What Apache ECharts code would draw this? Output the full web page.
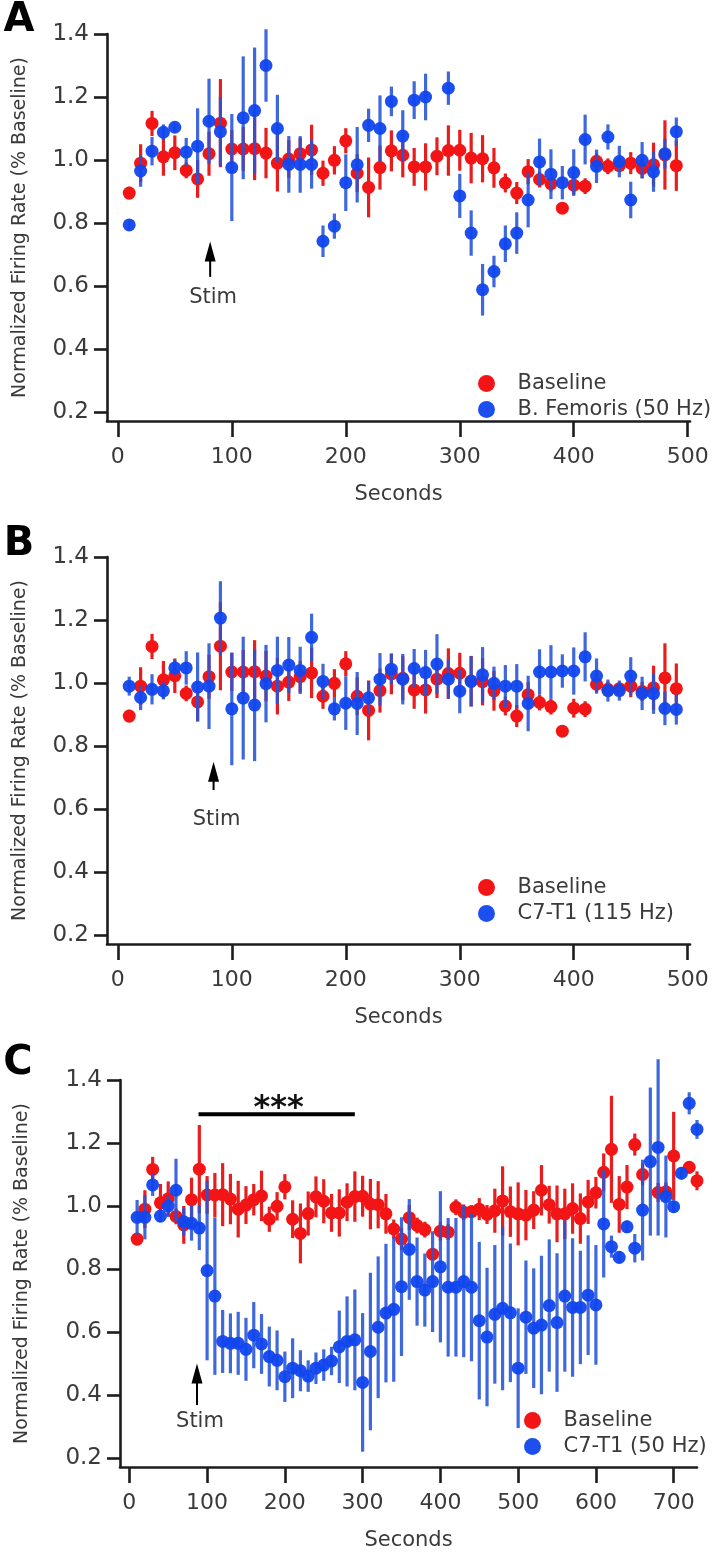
<!DOCTYPE html>
<html><head><meta charset="utf-8">
<style>html,body{margin:0;padding:0;background:#fff}#chart{width:720px;height:1558px}</style>
<script src="https://cdn.jsdelivr.net/npm/echarts@6/dist/echarts.min.js"></script>
</head><body><div id="chart"></div>
<script>
// ---------------- DATA ----------------
const timeAB = [10,20,30,40,50,60,70,80,90,100,110,120,130,140,150,160,170,180,190,200,210,220,230,240,250,260,270,280,290,300,310,320,330,340,350,360,370,380,390,400,410,420,430,440,450,460,470,480,490];
const timeC = [10,20,30,40,50,60,70,80,90,100,110,120,130,140,150,160,170,180,190,200,210,220,230,240,250,260,270,280,290,300,310,320,330,340,350,360,370,380,390,400,410,420,430,440,450,460,470,480,490,500,510,520,530,540,550,560,570,580,590,600,610,620,630,640,650,660,670,680,690,700,710,720,730];

// Baseline (red) – same recording shown in all panels
const baselineMean = [0.895,0.99,1.116,1.01,1.023,0.967,0.94,1.02,1.117,1.035,1.035,1.036,1.022,0.99,1.003,1.02,1.032,0.958,0.999,1.061,0.958,0.913,0.976,1.029,1.015,0.978,0.978,1.012,1.03,1.031,1.006,1.004,0.975,0.927,0.895,0.963,0.938,0.925,0.847,0.92,0.917,0.996,0.98,0.982,0.99,0.973,0.985,1.016,0.982,0.975,0.971,0.987,1.05,1.004,0.975,0.975,0.992,0.96,1.013,1.042,1.107,1.18,1.005,1.06,1.195,1.10,null,1.043,1.045,1.159,null,1.123,1.08];
const baselineErr = [0.02,0.06,0.04,0.06,0.055,0.025,0.06,0.07,0.14,0.06,0.07,0.1,0.08,0.09,0.06,0.05,0.08,0.04,0.045,0.04,0.06,0.095,0.07,0.065,0.07,0.06,0.075,0.06,0.08,0.065,0.08,0.075,0.063,0.03,0.035,0.04,0.025,0.025,0.012,0.03,0.025,0.025,0.025,0.02,0.035,0.03,0.07,0.11,0.08,0.1,0.08,0.06,0.08,0.06,0.09,0.08,0.08,0.08,0.07,0.05,0.06,0.17,0.09,0.07,0.035,0.035,null,0.03,0.03,0.14,null,0.02,0.03];

// Panel A – B. Femoris (50 Hz)
const femorisMean = [0.794,0.965,1.028,1.088,1.104,1.025,1.044,1.123,1.09,0.976,1.134,1.157,1.30,1.10,0.986,0.986,0.986,0.742,0.79,0.928,0.985,1.11,1.10,1.186,1.076,1.19,1.20,null,1.228,0.886,0.768,0.588,0.646,0.734,0.768,0.873,0.994,0.955,0.928,0.96,1.065,0.98,1.073,0.995,0.873,0.999,0.962,1.02,1.09];
const femorisErr = [0.015,0.05,0.045,0.025,0.015,0.045,0.12,0.135,0.11,0.17,0.195,0.2,0.115,0.107,0.09,0.09,0.077,0.05,0.04,0.09,0.12,0.053,0.105,0.047,0.082,0.06,0.074,null,0.053,0.07,0.072,0.082,0.05,0.058,0.066,0.087,0.074,0.079,0.053,0.074,0.079,0.053,0.04,0.05,0.058,0.058,0.063,0.047,0.045];

// Panel B – C7-T1 (115 Hz)
const c7t1HighMean = [0.99,0.954,0.98,0.975,1.048,1.048,0.987,0.99,1.206,0.918,0.952,0.93,0.998,1.04,1.057,1.04,1.145,1.005,0.918,0.936,0.935,0.953,1.012,1.044,1.012,1.046,1.033,1.06,1.012,0.974,1.005,1.026,0.999,0.99,0.99,0.935,1.035,1.035,1.038,1.038,1.083,1.022,0.976,0.976,1.022,0.967,0.966,0.919,0.916];
const c7t1HighErr = [0.03,0.04,0.048,0.027,0.025,0.053,0.11,0.136,0.117,0.179,0.195,0.178,0.123,0.107,0.089,0.075,0.075,0.056,0.037,0.085,0.1,0.053,0.083,0.048,0.08,0.062,0.072,0.095,0.062,0.07,0.08,0.088,0.053,0.067,0.07,0.088,0.072,0.085,0.053,0.075,0.078,0.056,0.035,0.032,0.06,0.053,0.064,0.053,0.048];

// Panel C – C7-T1 (50 Hz)
const c7t1LowMean = [0.964,0.964,1.067,0.968,1.0,1.05,0.95,0.945,0.93,0.795,0.714,0.57,0.564,0.564,0.545,0.59,0.562,0.522,0.51,0.458,0.485,0.477,0.46,0.485,0.495,0.508,0.553,0.57,0.575,0.44,0.538,0.615,0.66,0.672,0.744,0.862,0.76,0.733,0.76,0.807,0.742,0.742,0.76,0.742,0.636,0.584,0.656,0.675,0.661,0.485,0.647,0.612,0.622,0.684,0.63,0.714,0.678,0.678,0.717,0.686,0.943,0.871,0.837,0.934,0.866,0.987,1.141,1.186,1.03,0.998,1.104,1.326,1.243];
const c7t1LowErr = [0.055,0.07,0.035,0.02,0.035,0.1,0.045,0.055,0.07,0.285,0.25,0.1,0.095,0.1,0.1,0.105,0.095,0.095,0.095,0.08,0.095,0.065,0.05,0.05,0.05,0.045,0.115,0.143,0.16,0.22,0.25,0.225,0.22,0.23,0.22,0.16,0.14,0.116,0.16,0.24,0.22,0.22,0.24,0.235,0.25,0.22,0.22,0.26,0.22,0.19,0.18,0.19,0.22,0.21,0.22,0.24,0.22,0.18,0.19,0.19,0.17,0.035,0.02,0.02,0.045,0.16,0.235,0.28,0.13,0.02,0.02,0.035,0.03];

const yTicks = [0.2,0.4,0.6,0.8,1.0,1.2,1.4];
const xTicksAB = [0,100,200,300,400,500];
const xTicksC = [0,100,200,300,400,500,600,700];
const baselineName = 'Baseline';
const stimNames = ['B. Femoris (50 Hz)','C7-T1 (115 Hz)','C7-T1 (50 Hz)'];
const panelLetters = ['A','B','C'];
const stimTimes = [81, 84, 87];          // arrow x (s)
const sigBar = {from: 89, to: 290, level: 1.291, label: '***'};

// ---------------- STYLE / LAYOUT ----------------
const FONT = '"DejaVu Sans", "Liberation Sans", Arial, sans-serif';
const RED = '#f31515', RED_BAR = '#e81e1e';
const BLUE = '#1146ee', BLUE_BAR = '#2553d8';
const AXIS = '#1c1c1c', TXT = '#3a3a3a';

const panels = [
  {time: timeAB, base: 49, mean: femorisMean, err: femorisErr, grid:{left:107, top:34, width:583, height:387}, xMin:-9.5, xMax:502, xTicks:xTicksAB, yMin:0.1714, nameGapY:77, legend:{left:478, top:373}, stimY:{tip:0.741, tail:0.629, text:0.562}},
  {time: timeAB, base: 49, mean: c7t1HighMean, err: c7t1HighErr, grid:{left:107, top:557, width:583, height:387}, xMin:-9.5, xMax:502, xTicks:xTicksAB, yMin:0.1714, nameGapY:77, legend:{left:478, top:877}, stimY:{tip:0.75, tail:0.66, text:0.565}},
  {time: timeC, base: 73, mean: c7t1LowMean, err: c7t1LowErr, grid:{left:120, top:1080, width:577, height:387}, xMin:-12, xMax:730, xTicks:xTicksC, yMin:0.1714, nameGapY:88, legend:{left:524, top:1410}, stimY:{tip:0.50, tail:0.368, text:0.315}}
];

function pts(t, m, e, n) {
  const out = [];
  for (let i = 0; i < n; i++) if (m[i] != null) out.push([t[i], m[i], e[i] == null ? 0 : e[i]]);
  return out;
}
function errRender(color, opacity) {
  return function (params, api) {
    const x = api.value(0), y = api.value(1), e = api.value(2);
    const lo = api.coord([x, y - e]), hi = api.coord([x, y + e]);
    return {type:'line', shape:{x1:lo[0], y1:lo[1], x2:hi[0], y2:hi[1]},
      style:{stroke:color, lineWidth:3.2, opacity:opacity}};
  };
}

const grids = [], xAxes = [], yAxes = [], series = [], legends = [];
panels.forEach((p, i) => {
  grids.push(Object.assign({containLabel:false}, p.grid));
  xAxes.push({type:'value', gridIndex:i, min:p.xMin, max:p.xMax,
    axisLine:{show:true, onZero:false, lineStyle:{color:AXIS, width:2.6}},
    axisTick:{show:true, customValues:p.xTicks, length:16, inside:false, lineStyle:{color:AXIS, width:2.6}},
    axisLabel:{customValues:p.xTicks, fontSize:22, color:TXT, margin:25, fontFamily:FONT},
    splitLine:{show:false},
    name:'Seconds', nameLocation:'middle', nameGap:63,
    nameTextStyle:{fontSize:21, color:TXT, fontFamily:FONT}});
  yAxes.push({type:'value', gridIndex:i, min:p.yMin, max:1.4,
    axisLine:{show:true, onZero:false, lineStyle:{color:AXIS, width:2.6}},
    axisTick:{show:true, customValues:yTicks, length:13, lineStyle:{color:AXIS, width:2.6}},
    axisLabel:{customValues:yTicks, fontSize:23, color:TXT, margin:18, fontFamily:FONT, formatter: v => v.toFixed(1)},
    splitLine:{show:false},
    name:'Normalized Firing Rate (% Baseline)', nameLocation:'middle', nameGap:p.nameGapY,
    nameTextStyle:{fontSize:19, color:TXT, fontFamily:FONT}});
  const bData = pts(p.time, baselineMean, baselineErr, p.base);
  const sData = pts(p.time, p.mean, p.err, p.time.length);
  series.push({type:'custom', name:'baseline-err-' + i, xAxisIndex:i, yAxisIndex:i, clip:false, silent:true,
    renderItem: errRender(RED_BAR, 1), data:bData, encode:{x:0, y:1}, z:1});
  series.push({type:'scatter', name:baselineName, xAxisIndex:i, yAxisIndex:i, clip:false, silent:true,
    symbol:'circle', symbolSize:13, itemStyle:{color:RED, opacity:1}, data:bData.map(d => [d[0], d[1]]), z:2});
  series.push({type:'custom', name:'stim-err-' + i, xAxisIndex:i, yAxisIndex:i, clip:false, silent:true,
    renderItem: errRender(BLUE_BAR, 0.88), data:sData, encode:{x:0, y:1}, z:3});
  series.push({type:'scatter', name:stimNames[i], xAxisIndex:i, yAxisIndex:i, clip:false, silent:true,
    symbol:'circle', symbolSize:13, itemStyle:{color:BLUE, opacity:0.95}, data:sData.map(d => [d[0], d[1]]), z:4});
  legends.push({orient:'vertical', left:p.legend.left, top:p.legend.top, padding:0, itemGap:5,
    itemWidth:52, itemHeight:17, icon:'circle', selectedMode:false,
    textStyle:{fontSize:21, color:TXT, fontFamily:FONT, lineHeight:21},
    data:[{name:baselineName, itemStyle:{color:RED}}, {name:stimNames[i], itemStyle:{color:BLUE}}]});
});

const chart = echarts.init(document.getElementById('chart'), null, {renderer:'canvas'});
chart.setOption({animation:false, backgroundColor:'#fff', grid:grids, xAxis:xAxes, yAxis:yAxes, series:series, legend:legends});

// ---------------- ANNOTATIONS ----------------
const graphics = [];
const letterPos = [[19, 20.5], [19, 544.5], [18, 1064]];
panelLetters.forEach((L, i) => {
  graphics.push({type:'text', x:letterPos[i][0], y:letterPos[i][1],
    style:{text:L, font:'bold 40px ' + FONT, fill:'#000', align:'center', verticalAlign:'middle', textAlign:'center', textVerticalAlign:'middle'}});
});
panels.forEach((p, i) => {
  const tip = chart.convertToPixel({gridIndex:i}, [stimTimes[i], p.stimY.tip]);
  const tail = chart.convertToPixel({gridIndex:i}, [stimTimes[i], p.stimY.tail]);
  const txt = chart.convertToPixel({gridIndex:i}, [stimTimes[i], p.stimY.text]);
  graphics.push({type:'polygon', shape:{points:[[tip[0], tip[1]], [tip[0] - 5.5, tip[1] + 20], [tip[0] + 5.5, tip[1] + 20]]}, style:{fill:'#000'}});
  graphics.push({type:'line', shape:{x1:tip[0], y1:tip[1] + 18, x2:tail[0], y2:tail[1]}, style:{stroke:'#000', lineWidth:2}});
  graphics.push({type:'text', x:txt[0] + 3, y:txt[1],
    style:{text:'Stim', font:'21px ' + FONT, fill:TXT, align:'center', verticalAlign:'middle', textAlign:'center', textVerticalAlign:'middle'}});
});
const b0 = chart.convertToPixel({gridIndex:2}, [sigBar.from, sigBar.level]);
const b1 = chart.convertToPixel({gridIndex:2}, [sigBar.to, sigBar.level]);
graphics.push({type:'line', shape:{x1:b0[0], y1:b0[1], x2:b1[0], y2:b1[1]}, style:{stroke:'#000', lineWidth:4}});
graphics.push({type:'text', x:(b0[0] + b1[0]) / 2 + 2, y:b0[1] - 6,
  style:{text:sigBar.label, font:'bold 32px ' + FONT, fill:'#111', align:'center', verticalAlign:'middle', textAlign:'center', textVerticalAlign:'middle'}});
chart.setOption({graphic:graphics});
</script></body></html>
